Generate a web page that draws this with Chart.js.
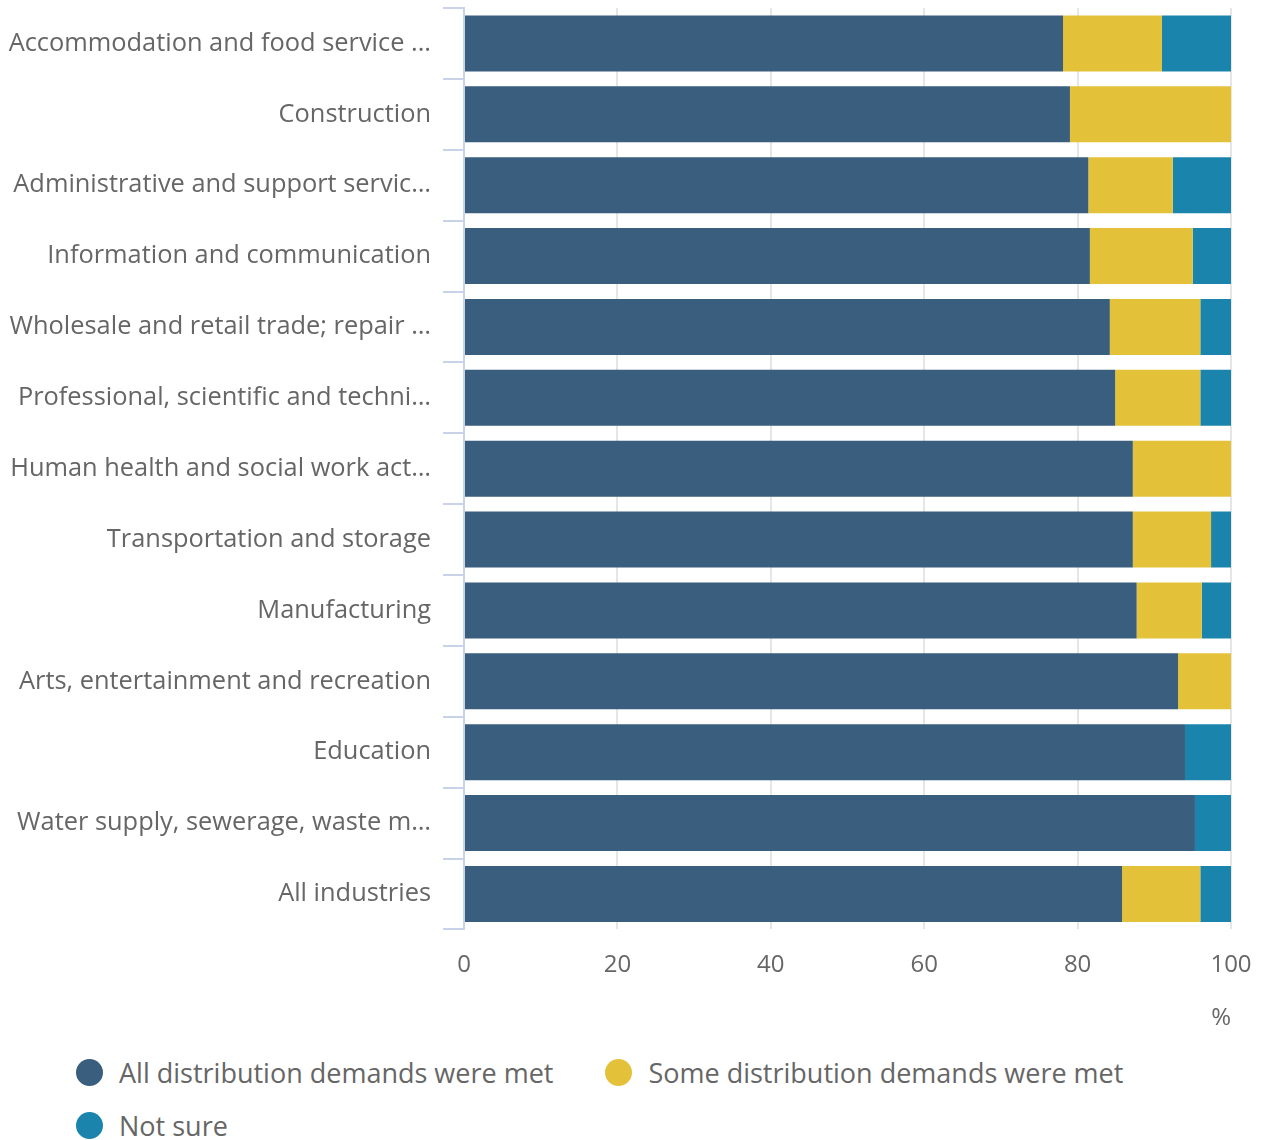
<!DOCTYPE html>
<html>
<head>
<meta charset="utf-8">
<script src="https://cdn.jsdelivr.net/npm/chart.js@4"></script>
<style>
  body { margin: 0; background: #fff; font-family: "Open Sans", sans-serif; }
  #wrap { position: relative; width: 1261px; height: 1140px; }
  #chartBox { position: absolute; left: 0; top: 0; width: 1261px; height: 1035px; }
  #legend { position: absolute; left: 76px; top: 1046px; width: 1180px; display: flex; flex-wrap: wrap; }
  .item { display: flex; align-items: center; height: 53px; margin-right: 52px; color: #666; font-size: 27px; }
  .dot { width: 27px; height: 27px; border-radius: 50%; margin-right: 16px; }
</style>
</head>
<body>
<div id="wrap">
  <div id="chartBox"><canvas id="myBarChart"></canvas></div>
  <div id="legend"></div>
</div>
<script>
// categories, as shown (long names are cut in the original)
var categories = [
    "Accommodation and food service ...",
    "Construction",
    "Administrative and support servic…",
    "Information and communication",
    "Wholesale and retail trade; repair …",
    "Professional, scientific and techni…",
    "Human health and social work act…",
    "Transportation and storage",
    "Manufacturing",
    "Arts, entertainment and recreation",
    "Education",
    "Water supply, sewerage, waste m…",
    "All industries",
];

// % of businesses
var allMet = [78.1, 79.0, 81.4, 81.6, 84.2, 84.9, 87.2, 87.2, 87.7, 93.1, 94.0, 95.3, 85.8];
var someMet = [12.9, 21.0, 11.0, 13.4, 11.8, 11.1, 12.8, 10.2, 8.5, 6.9, 0, 0, 10.2];
var notSure = [9.0, 0, 7.6, 5.0, 4.0, 4.0, 0, 2.6, 3.8, 0, 6.0, 4.7, 4.0];

var xTicks = [0, 20, 40, 60, 80, 100];

var seriesNames = [
    "All distribution demands were met",
    "Some distribution demands were met",
    "Not sure",
];
var colors = ["#3a5e7e", "#e3c23a", "#1a84ad"];

var ctx = document.getElementById("myBarChart").getContext("2d");

var datasets = [allMet, someMet, notSure].map(function (vals, i) {
    return {
        label: seriesNames[i],
        data: vals,
        backgroundColor: colors[i],
        borderWidth: 0,
        barPercentage: 0.79,
        categoryPercentage: 1.0,
    };
});

new Chart(ctx, {
    type: "bar",
    data: { labels: categories, datasets: datasets },
    options: {
        indexAxis: "y",
        responsive: true,
        maintainAspectRatio: false,
        animation: false,
        layout: { padding: { top: 8, right: 30, left: 0, bottom: 2 } },
        plugins: {
            legend: { display: false },
            tooltip: { enabled: false },
        },
        scales: {
            x: {
                stacked: true,
                min: 0,
                max: 100,
                afterBuildTicks: function (scale) {
                    scale.ticks = xTicks.map(function (v) { return { value: v }; });
                },
                afterFit: function (scale) {
                    scale.paddingLeft = 0;
                    scale.paddingRight = 0;
                },
                grid: {
                    color: "#e6e6e6",
                    lineWidth: 2,
                    drawTicks: false,
                },
                border: { display: false },
                ticks: {
                    color: "#666",
                    padding: 21,
                    font: { family: "Open Sans", size: 24 },
                },
                title: {
                    display: true,
                    text: "%",
                    align: "end",
                    color: "#666",
                    padding: { top: 4, bottom: 0 },
                    font: { family: "Open Sans", size: 24 },
                },
            },
            y: {
                stacked: true,
                afterFit: function (scale) {
                    scale.width = 464;
                    scale.paddingTop = 0;
                    scale.paddingBottom = 0;
                },
                grid: {
                    offset: true,
                    drawOnChartArea: false,
                    tickLength: 21,
                    color: "#c8d3ea",
                    lineWidth: 2,
                },
                border: { color: "#c8d3ea", width: 2 },
                ticks: {
                    color: "#666",
                    padding: 12,
                    autoSkip: false,
                    font: { family: "Open Sans", size: 25.4 },
                },
            },
        },
    },
});

// legend
var legend = document.getElementById("legend");
seriesNames.forEach(function (name, i) {
    var item = document.createElement("div");
    item.className = "item";
    var dot = document.createElement("span");
    dot.className = "dot";
    dot.style.background = colors[i];
    var txt = document.createElement("span");
    txt.textContent = name;
    item.appendChild(dot);
    item.appendChild(txt);
    legend.appendChild(item);
});
</script>
</body>
</html>
